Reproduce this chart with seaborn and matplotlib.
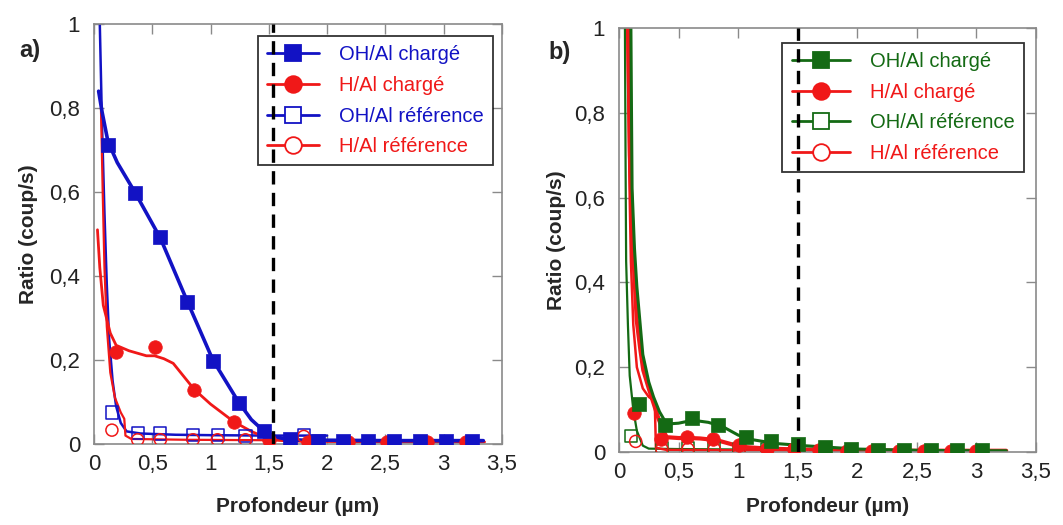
import numpy as np
import pandas as pd
import matplotlib
matplotlib.use("Agg")
import matplotlib.pyplot as plt
import seaborn as sns
from matplotlib.lines import Line2D

# ---- panel a) : traces (line) and measured points (markers) ----
a_oh_ch_lx = [0.04, 0.07, 0.12, 0.2, 0.35, 0.57, 0.8, 1.02, 1.24, 1.35, 1.46, 1.55, 1.65, 1.8, 2.0, 2.5, 3.0, 3.34]
a_oh_ch_ly = [0.84, 0.79, 0.72, 0.67, 0.60, 0.49, 0.34, 0.20, 0.10, 0.058, 0.03, 0.018, 0.011, 0.009, 0.009, 0.008, 0.008, 0.008]
a_oh_ch_px = [0.12, 0.35, 0.57, 0.80, 1.02, 1.24, 1.46, 1.68, 1.92, 2.14, 2.35, 2.57, 2.80, 3.02, 3.24]
a_oh_ch_py = [0.713, 0.597, 0.492, 0.339, 0.198, 0.097, 0.031, 0.012, 0.008, 0.008, 0.007, 0.007, 0.007, 0.007, 0.007]

a_h_ch_lx = [0.03, 0.05, 0.08, 0.14, 0.19, 0.3, 0.45, 0.52, 0.6, 0.68, 0.86, 1.0, 1.2, 1.35, 1.5, 1.65, 2.0, 2.5, 3.0, 3.35]
a_h_ch_ly = [0.51, 0.42, 0.33, 0.264, 0.235, 0.222, 0.21, 0.21, 0.203, 0.192, 0.13, 0.095, 0.053, 0.03, 0.012, 0.007, 0.006, 0.005, 0.005, 0.005]
a_h_ch_px = [0.19, 0.52, 0.86, 1.20, 1.50, 1.84, 2.18, 2.51, 2.86, 3.19]
a_h_ch_py = [0.22, 0.23, 0.129, 0.053, 0.01, 0.005, 0.004, 0.004, 0.004, 0.004]

a_oh_ref_lx = [0.05, 0.07, 0.09, 0.11, 0.13, 0.16, 0.19, 0.23, 0.28, 0.4, 0.7, 1.0, 1.5, 2.0]
a_oh_ref_ly = [1.0, 0.75, 0.55, 0.38, 0.25, 0.15, 0.09, 0.05, 0.03, 0.025, 0.022, 0.021, 0.02, 0.02]
a_oh_ref_px = [0.154, 0.375, 0.57, 0.85, 1.06, 1.30, 1.80]
a_oh_ref_py = [0.075, 0.027, 0.025, 0.021, 0.021, 0.019, 0.021]

a_h_ref_lx = [0.06, 0.075, 0.09, 0.11, 0.14, 0.18, 0.23, 0.26, 0.27, 0.32, 0.8, 1.5, 2.0, 2.5, 3.35]
a_h_ref_ly = [0.8, 0.6, 0.42, 0.28, 0.17, 0.11, 0.075, 0.06, 0.02, 0.012, 0.01, 0.009, 0.007, 0.005, 0.005]
a_h_ref_px = [0.154, 0.375, 0.57, 0.85, 1.06, 1.30, 1.80]
a_h_ref_py = [0.033, 0.01, 0.01, 0.01, 0.01, 0.01, 0.018]

# ---- panel b) ----
b_oh_ch_lx = [0.1, 0.105, 0.11, 0.13, 0.15, 0.2, 0.25, 0.29, 0.34, 0.4, 0.5, 0.62, 0.75, 0.87, 1.0, 1.1, 1.32, 1.55, 2.0, 2.5, 3.0, 3.25]
b_oh_ch_ly = [1.0, 0.8, 0.62, 0.48, 0.39, 0.23, 0.165, 0.13, 0.095, 0.066, 0.068, 0.075, 0.07, 0.06, 0.04, 0.03, 0.02, 0.015, 0.007, 0.004, 0.003, 0.003]
b_oh_ch_px = [0.168, 0.39, 0.617, 0.835, 1.065, 1.28, 1.50, 1.73, 1.95, 2.17, 2.39, 2.62, 2.84, 3.05]
b_oh_ch_py = [0.113, 0.063, 0.080, 0.064, 0.035, 0.025, 0.019, 0.013, 0.007, 0.005, 0.004, 0.004, 0.004, 0.004]

b_h_ch_lx = [0.076, 0.085, 0.092, 0.105, 0.12, 0.149, 0.18, 0.204, 0.25, 0.29, 0.33, 0.37, 0.40, 0.5, 0.6, 0.68, 0.82, 0.95, 1.04, 1.25, 1.5, 2.0, 2.5, 3.0, 3.25]
b_h_ch_ly = [1.0, 0.85, 0.70, 0.58, 0.47, 0.31, 0.24, 0.193, 0.15, 0.115, 0.08, 0.052, 0.035, 0.033, 0.033, 0.032, 0.028, 0.018, 0.012, 0.008, 0.006, 0.004, 0.003, 0.003, 0.003]
b_h_ch_px = [0.126, 0.356, 0.574, 0.79, 1.01, 1.24, 1.47, 1.68, 1.91, 2.12, 2.35, 2.56, 2.79, 3.0]
b_h_ch_py = [0.092, 0.031, 0.035, 0.031, 0.016, 0.008, 0.006, 0.005, 0.003, 0.003, 0.003, 0.003, 0.003, 0.003]

b_oh_ref_lx = [0.05, 0.055, 0.06, 0.075, 0.09, 0.12, 0.15, 0.2, 0.25, 0.5, 1.0, 1.5]
b_oh_ref_ly = [1.0, 0.7, 0.45, 0.3, 0.18, 0.1, 0.05, 0.015, 0.008, 0.007, 0.006, 0.006]
b_oh_ref_px = [0.10, 0.36, 0.58, 0.80, 1.01, 1.24]
b_oh_ref_py = [0.038, 0.009, 0.009, 0.009, 0.007, 0.006]

b_h_ref_lx = [0.07, 0.08, 0.09, 0.1, 0.12, 0.15, 0.2, 0.25, 0.3, 0.31, 0.4, 1.0, 1.5]
b_h_ref_ly = [1.0, 0.8, 0.6, 0.45, 0.3, 0.2, 0.15, 0.13, 0.12, 0.01, 0.005, 0.004, 0.004]
b_h_ref_px = [0.14, 0.36, 0.58, 0.80, 1.01, 1.24, 1.47]
b_h_ref_py = [0.025, 0.007, 0.007, 0.007, 0.006, 0.006, 0.006]

a_limit = 1.54
b_limit = 1.5

labels = ['OH/Al chargé', 'H/Al chargé', 'OH/Al référence', 'H/Al référence']
xticks = [0, 0.5, 1, 1.5, 2, 2.5, 3, 3.5]
xticklabels = ['0', '0,5', '1', '1,5', '2', '2,5', '3', '3,5']
yticks = [0, 0.2, 0.4, 0.6, 0.8, 1]
yticklabels = ['0', '0,2', '0,4', '0,6', '0,8', '1']

BLUE = '#1212C4'
RED = '#F01818'
GREEN = '#146A14'
FRAME = '#8a8a8a'

sns.set_style("white")
plt.rcParams['font.family'] = ['Liberation Sans', 'DejaVu Sans']

fig = plt.figure(figsize=(10.63, 5.25), dpi=100)
ax_a = fig.add_axes([0.0884, 0.1543, 0.3838, 0.80])
ax_b = fig.add_axes([0.5823, 0.139, 0.3923, 0.8076])


def trace(ax, xs, ys, col, lw):
    d = pd.DataFrame({'x': xs, 'y': ys})
    sns.lineplot(data=d, x='x', y='y', sort=False, estimator=None, color=col, lw=lw, ax=ax, zorder=2)


def points(ax, xs, ys, col, marker, filled, size):
    d = pd.DataFrame({'x': xs, 'y': ys})
    sns.scatterplot(data=d, x='x', y='y', marker=marker, s=size, color=col, edgecolor=col,
                    linewidth=1.1 if not filled else 0.5, ax=ax, zorder=3, legend=False)
    if not filled:
        ax.collections[-1].set_facecolor('none')


def panel(ax, c_oh, series, lws, limit, leg_anchor, hlen):
    (ohc_lx, ohc_ly, ohc_px, ohc_py), (hc_lx, hc_ly, hc_px, hc_py), \
        (ohr_lx, ohr_ly, ohr_px, ohr_py), (hr_lx, hr_ly, hr_px, hr_py) = series
    trace(ax, ohr_lx, ohr_ly, c_oh, lws[2])
    trace(ax, hr_lx, hr_ly, RED, lws[3])
    trace(ax, hc_lx, hc_ly, RED, lws[1])
    trace(ax, ohc_lx, ohc_ly, c_oh, lws[0])
    points(ax, ohr_px, ohr_py, c_oh, 's', False, 75)
    points(ax, hr_px, hr_py, RED, 'o', False, 75)
    points(ax, hc_px, hc_py, RED, 'o', True, 95)
    points(ax, ohc_px, ohc_py, c_oh, 's', True, 95)

    ax.axvline(limit, color='black', lw=2.4, ls=(0, (4, 2.5)), zorder=8)

    ax.set_xlim(0, 3.5)
    ax.set_ylim(0, 1)
    ax.set_xticks(xticks)
    ax.set_xticklabels(xticklabels)
    ax.set_yticks(yticks)
    ax.set_yticklabels(yticklabels)
    ax.tick_params(direction='in', top=True, right=True, bottom=True, left=True,
                   length=7, width=1, color=FRAME, labelsize=16, labelcolor='#222222')
    ax.tick_params(axis='x', pad=7)
    ax.tick_params(axis='y', pad=10)
    for sp in ax.spines.values():
        sp.set_color(FRAME)
        sp.set_linewidth(1.2)
        sp.set_visible(True)

    ax.set_xlabel('Profondeur (µm)', fontsize=15, fontweight='bold')
    ax.set_ylabel('Ratio (coup/s)', fontsize=15, fontweight='bold')

    cols = [c_oh, RED, c_oh, RED]
    mk = ['s', 'o', 's', 'o']
    fills = [True, True, False, False]
    handles = [Line2D([], [], color=c, lw=2, marker=m, markersize=12,
                      markerfacecolor=(c if f else 'white'), markeredgecolor=c, markeredgewidth=1.3)
               for c, m, f in zip(cols, mk, fills)]
    leg = ax.legend(handles, labels, loc='upper right', bbox_to_anchor=leg_anchor, borderaxespad=0,
                    fontsize=14.5, handlelength=hlen, handletextpad=1.0, labelspacing=0.58,
                    borderpad=0.45, frameon=True, fancybox=False, edgecolor='black')
    leg.get_frame().set_linewidth(1.3)
    leg.set_zorder(5)
    for t, c in zip(leg.get_texts(), cols):
        t.set_color(c)
    return ax


panel(ax_a, BLUE,
      [(a_oh_ch_lx, a_oh_ch_ly, a_oh_ch_px, a_oh_ch_py),
       (a_h_ch_lx, a_h_ch_ly, a_h_ch_px, a_h_ch_py),
       (a_oh_ref_lx, a_oh_ref_ly, a_oh_ref_px, a_oh_ref_py),
       (a_h_ref_lx, a_h_ref_ly, a_h_ref_px, a_h_ref_py)],
      [2.6, 2.0, 1.8, 1.6], a_limit, (0.978, 0.971), 2.6)
ax_a.xaxis.set_label_coords(0.5, -0.126)
ax_a.yaxis.set_label_coords(-0.137, 0.5)
fig.text(30 / 1063, 1 - 50 / 525, 'a)', fontsize=17, fontweight='bold', ha='center', va='center')

panel(ax_b, GREEN,
      [(b_oh_ch_lx, b_oh_ch_ly, b_oh_ch_px, b_oh_ch_py),
       (b_h_ch_lx, b_h_ch_ly, b_h_ch_px, b_h_ch_py),
       (b_oh_ref_lx, b_oh_ref_ly, b_oh_ref_px, b_oh_ref_py),
       (b_h_ref_lx, b_h_ref_ly, b_h_ref_px, b_h_ref_py)],
      [2.2, 3.0, 1.6, 1.8], b_limit, (0.971, 0.965), 2.9)
ax_b.xaxis.set_label_coords(0.5, -0.106)
ax_b.yaxis.set_label_coords(-0.127, 0.5)
fig.text(560 / 1063, 1 - 53 / 525, 'b)', fontsize=17, fontweight='bold', ha='center', va='center')

fig.savefig('out.png', dpi=100)
